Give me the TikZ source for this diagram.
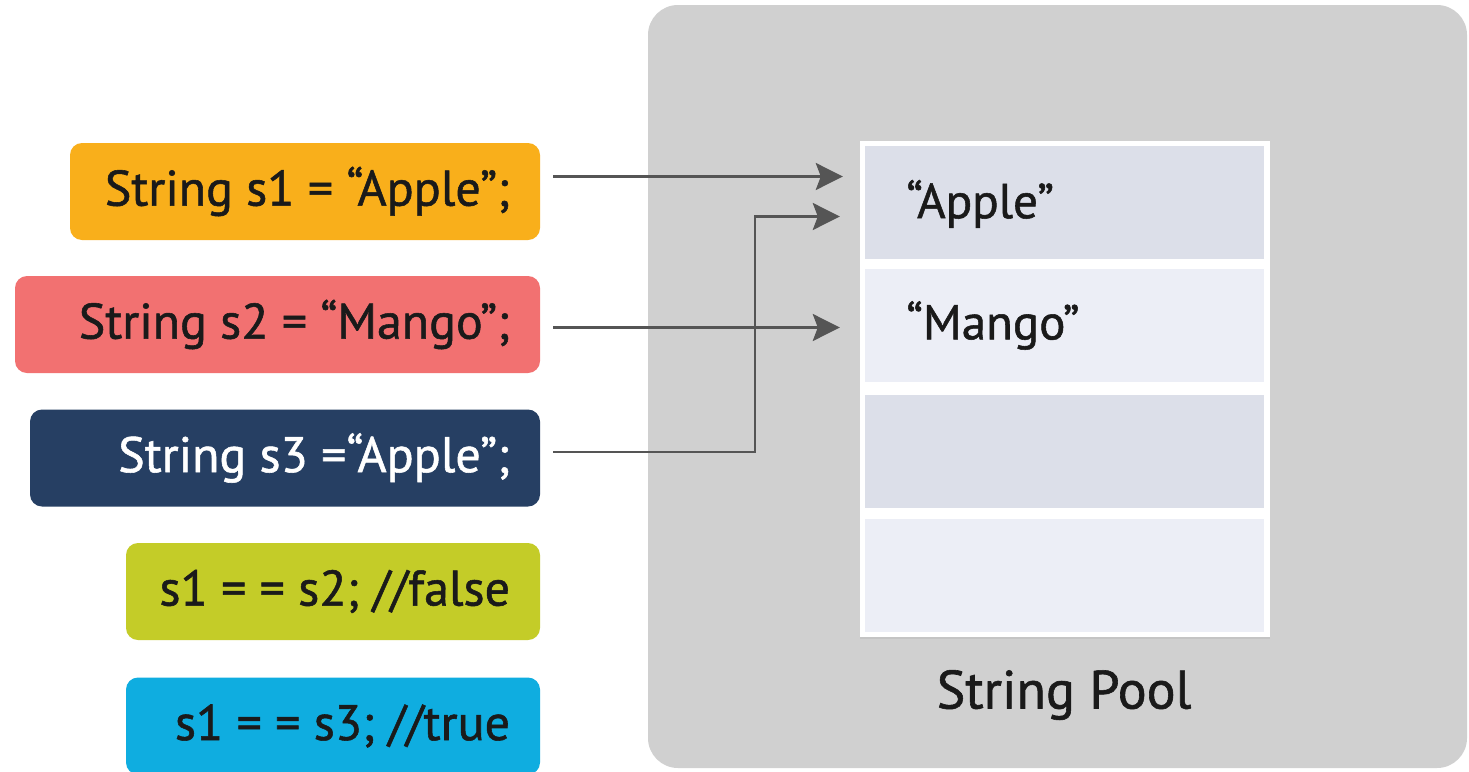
\documentclass[tikz,border=0pt]{standalone}
\usepackage{fontspec}
\setmainfont{PT Sans}
\newfontface\codefont{PT Sans}[FakeBold=1.1]
\usetikzlibrary{arrows.meta,calc,shadows}
\definecolor{cOrange}{HTML}{F9AF1B}
\definecolor{cSalmon}{HTML}{F27171}
\definecolor{cNavy}{HTML}{263F63}
\definecolor{cOlive}{HTML}{C4CC28}
\definecolor{cCyan}{HTML}{0FADE0}
\definecolor{cPanel}{HTML}{D0D0D0}
\definecolor{cRowA}{HTML}{DCDFE9}
\definecolor{cRowB}{HTML}{ECEEF6}
\definecolor{cArrow}{HTML}{555555}
\definecolor{cText}{HTML}{1A1A1A}
\newcommand\codeline[2]{\makebox[#1][r]{#2}}
\tikzset{
  codebox/.style={rectangle, rounded corners=12pt, inner xsep=30pt, inner ysep=0pt,
    minimum height=97pt, text=cText,
    font=\codefont\fontsize{50}{56}\selectfont},
  poolrow/.style={rectangle, inner sep=0pt, minimum width=399pt, minimum height=113pt},
  rowtext/.style={anchor=west, text=cText, font=\codefont\fontsize{49}{54}\selectfont},
  link/.style={draw=cArrow, line width=2.8pt, -{Stealth[length=27pt, width=27pt, inset=5pt]}},
}
\begin{document}
\begin{tikzpicture}[x=1pt, y=-1pt]
\useasboundingbox (0,0) rectangle (1469,771);
\fill[white] (0,0) rectangle (1469,771);

% background panel of the pool
\fill[cPanel, rounded corners=30pt] (648,5) rectangle (1467,768);

% string pool frame and its slots
\node[rectangle, fill=white, inner sep=0pt, minimum width=410pt, minimum height=496pt,
      drop shadow={shadow xshift=0pt, shadow yshift=-2pt, opacity=0.15}] (pool) at (1065,389) {};
\node[poolrow, fill=cRowA] (r1) at (1064.5,202) {};
\node[poolrow, fill=cRowB] (r2) at (1064.5,325.5) {};
\node[poolrow, fill=cRowA] (r3) at (1064.5,451) {};
\node[poolrow, fill=cRowB] (r4) at (1064.5,575.5) {};
\node[rowtext] (v1) at ([xshift=38pt, yshift=-2pt]r1.west) {“Apple”};
\node[rowtext] (v2) at ([xshift=38pt]r2.west) {“Mango”};
\node[text=cText, font=\codefont\fontsize{54}{60}\selectfont] (title) at (1064,695) {String Pool};

% code statements
\node[codebox, fill=cOrange] (b1) at (305,191.5) {\codeline{410pt}{String s1 = “Apple”;}};
\node[codebox, fill=cSalmon] (b2) at (277.5,324.5) {\codeline{465pt}{String s2 = “Mango”;}};
\node[codebox, fill=cNavy, text=white] (b3) at (285,458) {\codeline{450pt}{String s3 =“Apple”;}};
\node[codebox, fill=cOlive] (b4) at (333,591.5) {\codeline{354pt}{s1 = = s2; //false}};
\node[codebox, fill=cCyan] (b5) at (333,726) {\codeline{354pt}{s1 = = s3; //true}};

% references into the pool
\coordinate (s1) at ($(b1.east)+(13,-15)$);
\coordinate (s2) at ($(b2.east)+(13,3)$);
\coordinate (s3) at ($(b3.east)+(13,-6)$);
\coordinate (t1) at (s1 -| pool.west);
\coordinate (t2) at ($(t1)+(0,40)$);
\coordinate (t3) at (s2 -| pool.west);
\coordinate (k) at (755,0);
\draw[link, shorten >=17pt] (s1) -- (t1);
\draw[link, shorten >=20pt] (s2) -- (t3);
\draw[link, shorten >=20pt] (s3) -| (k |- t2) -- (t2);
\end{tikzpicture}
\end{document}
